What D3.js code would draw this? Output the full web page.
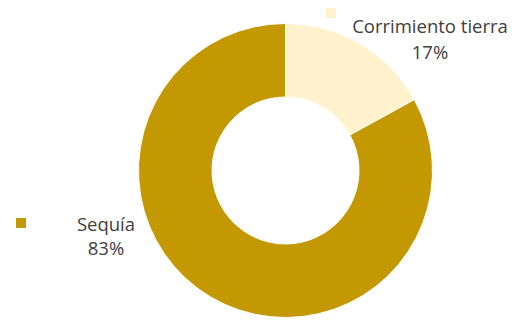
<!DOCTYPE html>
<html><head><meta charset="utf-8">
<script src="https://cdn.jsdelivr.net/npm/d3@7"></script>
<style>body{margin:0;background:#fff}</style>
</head><body>
<svg id="c" width="520" height="320"></svg>
<script>
const categories = ["Corrimiento tierra", "Sequía"];
const values = [17, 83];
const percentLabels = ["17%", "83%"];
const colors = ["#FFF2CC", "#C49800"];

const svg = d3.select("#c");
const cx = 285.5, cy = 170.5, R = 147, r = 73.5;
const pie = d3.pie().sort(null).value(d => d)(values);
const arc = d3.arc().innerRadius(r).outerRadius(R);
const g = svg.append("g").attr("transform", `translate(${cx},${cy})`);
g.selectAll("path").data(pie).join("path")
  .attr("d", arc).attr("fill", (d,i) => colors[i])
  .attr("stroke", "#fff").attr("stroke-width", 1);

const labelPos = [
  {mx: 326, my: 8, tx: 430, ty1: 33, ty2: 59},
  {mx: 16, my: 218, tx: 106, ty1: 231, ty2: 255}
];
const font = "Open Sans, sans-serif";
categories.forEach((c, i) => {
  const p = labelPos[i];
  svg.append("rect").attr("x", p.mx).attr("y", p.my).attr("width", 10).attr("height", 10).attr("fill", colors[i]);
  svg.append("text").attr("x", p.tx).attr("y", p.ty1).attr("text-anchor", "middle")
    .attr("font-family", font).attr("font-size", 18.5).attr("fill", "#404040").text(c);
  svg.append("text").attr("x", p.tx).attr("y", p.ty2).attr("text-anchor", "middle")
    .attr("font-family", font).attr("font-size", 18.5).attr("fill", "#404040").text(percentLabels[i]);
});
</script>
</body></html>
